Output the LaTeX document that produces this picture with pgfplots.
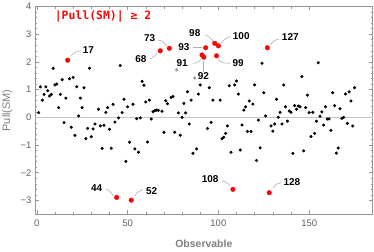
\documentclass[border=0pt]{standalone}
\usepackage{pgfplots}
\pgfplotsset{compat=1.18}
\usepackage{pgfplotstable}
\usepackage{fontspec}
\setmainfont{Liberation Sans}
\newfontfamily\monob{DejaVu Sans Mono}
\definecolor{framegray}{RGB}{150,150,150}
\definecolor{ticklab}{RGB}{95,95,95}
\definecolor{leader}{RGB}{175,175,175}
\definecolor{mred}{RGB}{250,5,5}
\definecolor{ptgray}{RGB}{150,150,150}

\pgfplotstableread{
x y
1 0.17
2 1.10
3 0.62
4 0.83
5 1.10
6 0.96
7 0.77
8 0.83
9 1.77
10 1.17
11 1.20
12 0.35
13 0.83
14 1.36
15 -0.19
16 0.69
18 1.39
19 -0.36
20 1.44
21 -0.65
22 1.10
23 0.05
24 0.69
25 0.35
26 1.07
27 -0.77
28 -0.40
29 1.77
30 -0.70
31 -0.42
32 -0.24
34 0.29
35 -0.31
36 -1.12
37 -0.29
38 0.18
39 0.35
40 -0.43
41 -1.12
42 0.47
43 -0.17
45 -0.02
46 1.87
47 0.17
48 0.65
49 -1.59
50 0.38
51 -0.90
53 0.47
54 -1.14
55 -0.05
56 -1.26
57 -0.02
58 1.30
59 1.16
60 0.55
61 -0.89
62 0.62
63 -0.06
64 0.20
65 0.24
66 0.26
67 0.25
69 0.22
70 -0.54
71 0.60
72 0.49
74 0.72
75 0.75
76 -0.54
78 0.16
79 -0.65
80 0.00
81 0.50
82 0.16
83 0.92
84 -0.24
85 0.62
86 -1.30
88 -1.14
89 0.84
90 1.17
94 -0.40
95 1.07
96 -0.18
97 0.62
101 0.62
102 -0.77
103 -0.72
104 -0.58
105 -0.31
106 1.14
107 -1.26
109 1.17
110 1.31
111 0.84
112 -1.18
113 -0.28
114 0.26
115 0.38
116 -0.51
117 0.59
118 -0.51
119 0.48
120 1.17
121 -1.56
122 -0.10
123 -1.10
124 1.95
125 0.89
126 0.05
129 -0.31
130 -0.50
131 -0.24
132 0.65
133 0.00
134 0.18
135 -0.24
136 1.17
137 0.38
138 -0.14
139 0.23
140 0.18
141 -1.30
142 0.42
143 0.29
144 0.41
145 0.38
146 1.47
147 -1.21
148 0.35
149 0.80
150 0.17
151 -0.69
152 0.18
153 -0.58
154 -0.14
155 1.97
156 0.04
157 0.20
158 -0.28
159 0.38
160 -0.06
161 -0.06
162 -0.47
163 0.89
164 0.42
165 -1.29
166 -1.11
167 0.31
168 -0.04
169 0.00
170 0.84
171 -0.22
172 0.92
173 0.59
174 -0.31
175 1.07
}\blackpts

\pgfplotstableread{
x y
77 1.71
87 1.42
}\graypts

\pgfplotstableread{
x y
17 2.06
44 -2.89
52 -2.99
68 2.40
73 2.49
91 2.25
92 2.17
93 2.51
98 2.67
99 2.22
100 2.58
108 -2.60
127 2.51
128 -2.72
}\redpts

\begin{document}
\begin{tikzpicture}
\begin{axis}[
  scale only axis,
  width=337.7bp, height=207.8bp,
  xmin=-1, xmax=185, ymin=-3.5, ymax=4,
  xtick={0,50,100,150}, xticklabels={0,50,100,150},
  ytick={-3,-2,-1,0,1,2,3,4},
  yticklabels={−3,−2,−1,0,1,2,3,4},
  minor x tick num=4, minor y tick num=4,
  tick align=inside,
  major tick length=4bp, minor tick length=2.2bp,
  axis line style={framegray, line width=0.6bp},
  every tick/.style={framegray, line width=0.5bp},
  tick label style={font=\fontsize{9.5}{10}\selectfont, text=ticklab},
  xticklabel style={yshift=-2.5bp},
  xlabel={Observable}, ylabel={Pull(SM)},
  xlabel style={at={(axis description cs:0.5,-0.159)}, anchor=base,
    font=\bfseries\fontsize{10.5}{12}\selectfont, text=gray},
  ylabel style={at={(axis description cs:-0.074,0.5)}, anchor=base, rotate=0,
    font=\fontsize{11}{12}\selectfont, text=gray},
  clip=false,
]
\addplot[forget plot, gray!45, line width=0.6bp] coordinates {(-1,0) (185,0)};
\addplot[black, only marks, mark=*, mark size=1.35bp, mark options={draw=none, fill=black}] table[x=x,y=y]{\blackpts};
\addplot[ptgray, only marks, mark=*, mark size=1.35bp, mark options={draw=none, fill=ptgray}] table[x=x,y=y]{\graypts};
\addplot[mred, only marks, mark=*, mark size=2.3bp, mark options={draw=none, fill=mred}] table[x=x,y=y]{\redpts};

\draw[leader, line width=0.6bp, rounded corners=2bp] (axis cs:18.8,2.22) -- (axis cs:21.6,2.38) -- (axis cs:24.6,2.40);
\draw[leader, line width=0.6bp, rounded corners=2bp] (axis cs:71.6,2.57) -- (axis cs:69.7,2.73) -- (axis cs:66.96,2.79);
\draw[leader, line width=0.6bp, rounded corners=2bp] (axis cs:66.1,2.31) -- (axis cs:64.6,2.17) -- (axis cs:62.4,2.12);
\draw[leader, line width=0.6bp] (axis cs:91.1,2.51) -- (axis cs:85.9,2.51);
\draw[leader, line width=0.6bp, rounded corners=2bp] (axis cs:90.5,2.09) -- (axis cs:88.7,1.97) -- (axis cs:85.9,1.95);
\draw[leader, line width=0.6bp] (axis cs:91.8,2.03) -- (axis cs:91.8,1.65);
\draw[leader, line width=0.6bp, rounded corners=2bp] (axis cs:97.3,2.71) -- (axis cs:95.5,2.89) -- (axis cs:92.7,2.97);
\draw[leader, line width=0.6bp, rounded corners=2bp] (axis cs:101.4,2.67) -- (axis cs:103.8,2.85) -- (axis cs:106.9,2.91);
\draw[leader, line width=0.6bp, rounded corners=2bp] (axis cs:100.1,2.09) -- (axis cs:101.9,1.97) -- (axis cs:106.5,1.95);
\draw[leader, line width=0.6bp, rounded corners=2bp] (axis cs:128.6,2.61) -- (axis cs:130.4,2.77) -- (axis cs:133.5,2.82);
\draw[leader, line width=0.6bp, rounded corners=2bp] (axis cs:42.1,-2.84) -- (axis cs:40.3,-2.65) -- (axis cs:38.1,-2.60);
\draw[leader, line width=0.6bp, rounded corners=2bp] (axis cs:54.1,-2.84) -- (axis cs:55.4,-2.69) -- (axis cs:58.4,-2.62);
\draw[leader, line width=0.6bp, rounded corners=2bp] (axis cs:106.5,-2.48) -- (axis cs:104.7,-2.34) -- (axis cs:101.9,-2.29);
\draw[leader, line width=0.6bp, rounded corners=2bp] (axis cs:130.1,-2.56) -- (axis cs:131.3,-2.42) -- (axis cs:134.6,-2.36);

\begin{scope}[every node/.style={font=\bfseries\fontsize{10}{12}\selectfont, text=black, inner sep=0pt}]
\node at (axis cs:28.4,2.43) {17};
\node at (axis cs:62.1,2.85) {73};
\node at (axis cs:57.3,2.09) {68};
\node at (axis cs:81.0,2.55) {93};
\node at (axis cs:80.0,1.95) {91};
\node at (axis cs:91.8,1.48) {92};
\node at (axis cs:87.0,3.03) {98};
\node at (axis cs:112.6,2.94) {100};
\node at (axis cs:110.9,1.95) {99};
\node at (axis cs:139.6,2.89) {127};
\node at (axis cs:33.0,-2.56) {44};
\node at (axis cs:63.3,-2.65) {52};
\node at (axis cs:95.5,-2.24) {108};
\node at (axis cs:140.5,-2.35) {128};
\end{scope}
\node[font=\monob\bfseries\fontsize{11.5}{12}\selectfont, text=mred, inner sep=0pt] at (axis cs:36.5,3.63) {|Pull(SM)| ≥ 2};
\end{axis}
\pgfresetboundingbox
\path[use as bounding box] ([shift={(-35bp,-37.7bp)}]current axis.south west) rectangle ([shift={(1.3bp,6.5bp)}]current axis.north east);
\end{tikzpicture}
\end{document}
